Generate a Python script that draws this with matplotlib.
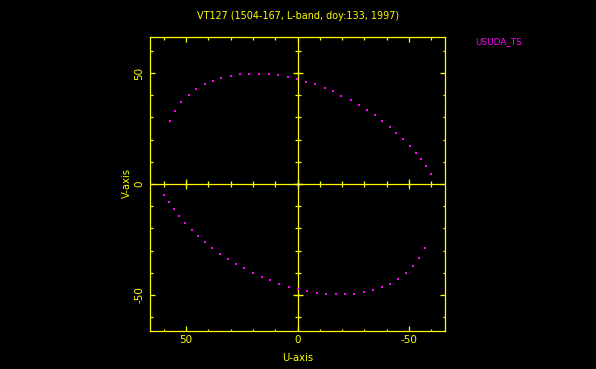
import numpy as np
import matplotlib
matplotlib.use('Agg')
import matplotlib.pyplot as plt
from matplotlib.ticker import MultipleLocator

#-------------------------------------------- Data --------------------------------------------#

title = 'VT127 (1504-167, L-band, doy:133, 1997)'
station = 'USUDA_TS'

# upper track (u, v) in kilo-lambda
u_top = [57.2, 55.1, 52.1, 48.9, 45.5, 41.6, 38.0, 34.2, 29.9, 25.8, 21.6, 17.3,
         12.8, 8.8, 4.3, 0.3, -3.7, -7.9, -12.2, -15.8, -19.7, -23.9, -27.4, -31.0,
         -34.6, -38.0, -41.3, -44.4, -47.4, -50.3, -53.0, -55.5, -57.6, -59.7]
v_top = [28.4, 33.0, 36.8, 39.9, 42.6, 44.9, 46.4, 47.7, 48.6, 49.4, 49.7, 49.7,
         49.4, 48.9, 48.0, 47.3, 46.1, 44.9, 43.4, 41.7, 39.8, 37.8, 35.7, 33.5,
         31.1, 28.5, 25.8, 23.1, 20.3, 17.3, 14.1, 11.1, 7.9, 4.6]

# lower track
u_bot = [59.8, 57.7, 55.5, 53.1, 50.4, 47.4, 44.6, 41.3, 38.2, 34.8, 31.2, 27.6,
         24.0, 20.0, 16.0, 12.2, 8.1, 3.9, -0.1, -4.3, -8.6, -12.8, -17.1, -21.4,
         -25.5, -29.7, -34.0, -38.0, -41.6, -45.2, -48.7, -51.8, -54.7, -57.0]
v_bot = [-4.8, -8.1, -11.3, -14.4, -17.4, -20.5, -23.3, -26.0, -28.7, -31.3, -33.6, -35.9,
         -38.0, -40.0, -41.8, -43.4, -44.9, -46.3, -47.5, -48.4, -49.0, -49.4, -49.7, -49.7,
         -49.4, -48.8, -47.7, -46.6, -44.9, -42.7, -40.1, -36.9, -33.2, -28.7]

lim = 66.2
major_ticks = [-50, 0, 50]
minor_step = 10

#-------------------------------------------- Plot --------------------------------------------#

yellow = '#ffff00'
magenta = '#ff00ff'

plt.rcParams['font.family'] = 'DejaVu Sans'
fig = plt.figure(figsize=(5.96, 3.69), dpi=100, facecolor='black')
ax = fig.add_axes([150/596, 1-331/369, 295/596, 294/369], facecolor='black')

ax.plot(u_top, v_top, 's', color=magenta, ms=1.5, mew=0)
ax.plot(u_bot, v_bot, 's', color=magenta, ms=1.5, mew=0)
ax.plot([0], [0], 's', color='white', ms=1.3, mew=0)

ax.set_xlim(lim, -lim)
ax.set_ylim(-lim, lim)

# axes through origin, with ticks on them
ax.axhline(0, color=yellow, lw=0.9, zorder=1)
ax.axvline(0, color=yellow, lw=0.9, zorder=1)
minor = np.arange(-60, 61, minor_step)
ax.plot(minor, np.zeros_like(minor), '|', color=yellow, ms=4, mew=0.9, zorder=1)
ax.plot(np.zeros_like(minor), minor, '_', color=yellow, ms=4, mew=0.9, zorder=1)
ax.plot(major_ticks, np.zeros(3), '|', color=yellow, ms=7, mew=0.9, zorder=1)
ax.plot(np.zeros(3), major_ticks, '_', color=yellow, ms=7, mew=0.9, zorder=1)

for s in ax.spines.values():
    s.set_color(yellow)
    s.set_linewidth(0.9)

ax.set_xticks(major_ticks)
ax.set_yticks(major_ticks)
ax.set_xticklabels(['-50', '0', '50'])
ax.set_yticklabels(['-50', '0', '50'], rotation=90, va='center')
ax.xaxis.set_minor_locator(MultipleLocator(minor_step))
ax.yaxis.set_minor_locator(MultipleLocator(minor_step))
ax.tick_params(which='both', direction='in', top=True, right=True,
               color=yellow, labelcolor=yellow, labelsize=7.5, width=0.9)
ax.tick_params(which='major', length=3.3)
ax.tick_params(which='minor', length=1.8)
ax.tick_params(axis='x', pad=3)
ax.tick_params(axis='y', pad=4)

fig.text(298/596, 1-16/369, title, color=yellow, fontsize=6.9, ha='center', va='center')
fig.text(475/596, 1-42/369, station, color=magenta, fontsize=6.4, ha='left', va='center')
fig.text(298/596, 1-358/369, 'U-axis', color=yellow, fontsize=7.2, ha='center', va='center')
fig.text(127/596, 1-183/369, 'V-axis', color=yellow, fontsize=7.2, ha='center', va='center',
         rotation=90)

fig.savefig('out.png', dpi=100, facecolor='black')
